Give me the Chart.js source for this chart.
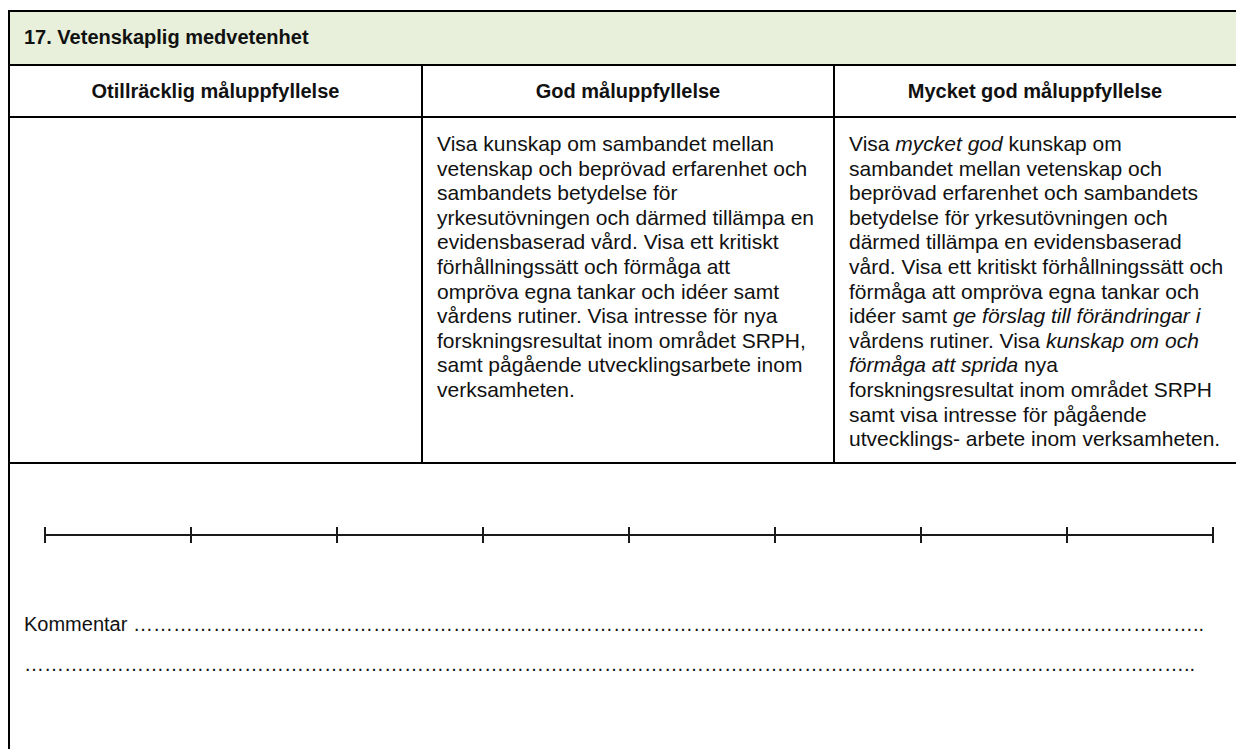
<!DOCTYPE html>
<html>
<head>
<meta charset="utf-8">
<script src="https://cdn.jsdelivr.net/npm/chart.js@4"></script>
<style>
  html, body { margin: 0; padding: 0; background: #fff; overflow: hidden; }
  body { width: 1236px; height: 749px; position: relative; font-family: "Liberation Sans", Arial, sans-serif; color: #111; }
  .hl { position: absolute; height: 2px; background: #000; }
  .vl { position: absolute; width: 2px; background: #000; }
  .title { position: absolute; left: 9px; top: 11px; width: 1240px; height: 53px; background: #e8f0dc; display: flex; align-items: center; }
  .title span { padding-left: 15px; font-weight: bold; font-size: 20px; }
  .head { position: absolute; top: 66px; height: 51px; line-height: 51px; text-align: center; font-weight: bold; font-size: 20px; }
  .cell { position: absolute; top: 132px; font-size: 21px; line-height: 24.6px; white-space: nowrap; }
  .komm { position: absolute; left: 24px; font-size: 20px; line-height: 23px; white-space: nowrap; }
  #scaleWrap { position: absolute; left: 35px; top: 515px; width: 1188px; height: 40px; }
</style>
</head>
<body>

<div class="title"><span>17. Vetenskaplig medvetenhet</span></div>

<!-- grid lines -->
<div class="hl" style="left:8px; top:10px; width:1240px;"></div>
<div class="hl" style="left:8px; top:64px; width:1240px;"></div>
<div class="hl" style="left:8px; top:116px; width:1240px;"></div>
<div class="hl" style="left:8px; top:462px; width:1240px;"></div>
<div class="vl" style="left:8px; top:10px; height:739px;"></div>
<div class="vl" style="left:421px; top:64px; height:400px;"></div>
<div class="vl" style="left:833px; top:64px; height:400px;"></div>

<div class="head" style="left:10px; width:411px;">Otillräcklig måluppfyllelse</div>
<div class="head" style="left:423px; width:410px;">God måluppfyllelse</div>
<div class="head" style="left:835px; width:400px;">Mycket god måluppfyllelse</div>

<div class="cell" style="left:437px;">
Visa kunskap om sambandet mellan<br>
vetenskap och beprövad erfarenhet och<br>
sambandets betydelse för<br>
yrkesutövningen och därmed tillämpa en<br>
evidensbaserad vård. Visa ett kritiskt<br>
förhållningssätt och förmåga att<br>
ompröva egna tankar och idéer samt<br>
vårdens rutiner. Visa intresse för nya<br>
forskningsresultat inom området SRPH,<br>
samt pågående utvecklingsarbete inom<br>
verksamheten.
</div>

<div class="cell" style="left:849px;">
Visa <i>mycket god</i> kunskap om<br>
sambandet mellan vetenskap och<br>
beprövad erfarenhet och sambandets<br>
betydelse för yrkesutövningen och<br>
därmed tillämpa en evidensbaserad<br>
vård. Visa ett kritiskt förhållningssätt och<br>
förmåga att ompröva egna tankar och<br>
idéer samt <i>ge förslag till förändringar i</i><br>
vårdens rutiner. Visa <i>kunskap om och</i><br>
<i>förmåga att sprida</i> nya<br>
forskningsresultat inom området SRPH<br>
samt visa intresse för pågående<br>
utvecklings- arbete inom verksamheten.
</div>

<div id="scaleWrap"><canvas id="scaleChart"></canvas></div>

<div class="komm" id="komm1" style="top:613px;"></div>
<div class="komm" id="komm2" style="top:653px;"></div>

<script>
// the rating scale: nine steps along one line
const scaleSteps = [0, 1, 2, 3, 4, 5, 6, 7, 8];
const scaleLevel = [0, 0, 0, 0, 0, 0, 0, 0, 0];

// fill a comment line with ellipses up to a right edge, ending in ".."
function fillDots(id, prefix, rightEdge) {
  const el = document.getElementById(id);
  let n = 1;
  el.textContent = prefix + "…" + "..";
  while (true) {
    el.textContent = prefix + "…".repeat(n + 1) + "..";
    if (el.offsetLeft + el.offsetWidth > rightEdge) break;
    n++;
  }
  el.textContent = prefix + "…".repeat(n) + "..";
}
fillDots("komm1", "Kommentar ", 1212);
fillDots("komm2", "", 1200);

const ctx = document.getElementById("scaleChart").getContext("2d");

new Chart(ctx, {
  type: "scatter",
  data: {
    datasets: [{
      data: scaleSteps.map((x, i) => ({ x, y: scaleLevel[i] })),
      showLine: true,
      borderColor: "#1a1a1a",
      borderWidth: 2,
      pointStyle: "line",
      rotation: 90,
      pointRadius: 8,
      pointBorderWidth: 2,
      pointBorderColor: "#1a1a1a",
      clip: false
    }]
  },
  options: {
    responsive: true,
    maintainAspectRatio: false,
    animation: false,
    layout: { padding: { left: 10, right: 10, top: 0, bottom: 0 } },
    plugins: { legend: { display: false }, tooltip: { enabled: false } },
    scales: {
      x: { type: "linear", min: 0, max: 8, display: false },
      y: { min: -1, max: 1, display: false }
    }
  }
});
</script>
</body>
</html>
